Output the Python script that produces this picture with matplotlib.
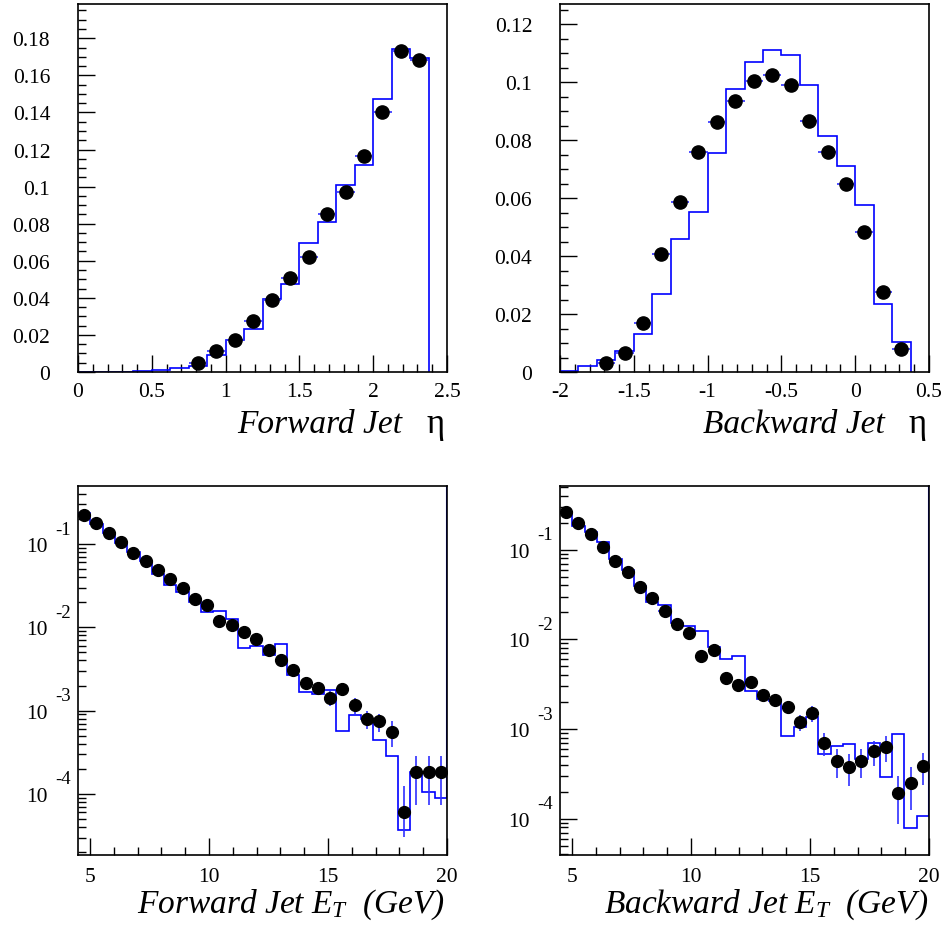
import numpy as np
import matplotlib
matplotlib.use("Agg")
import matplotlib.pyplot as plt
from matplotlib.ticker import MultipleLocator, LogLocator, NullFormatter, FuncFormatter
from matplotlib.transforms import blended_transform_factory, offset_copy

# ── DATA ────────────────────────────────────────────────────────────────────
# jet pseudorapidity, bins of 0.125
eta_fwd_edges = np.arange(0.0, 2.376, 0.125)
eta_fwd_mc = [0, 0, 0, 0.0004, 0.0010, 0.0023, 0.0030, 0.0093, 0.0171, 0.0230,
              0.0395, 0.0473, 0.0695, 0.0810, 0.1006, 0.1114, 0.1474, 0.1743, 0.1693]
eta_fwd_data = [np.nan] * 6 + [0.0050, 0.0113, 0.0174, 0.0273, 0.0390, 0.0507, 0.0622,
                               0.0854, 0.0970, 0.1163, 0.1402, 0.1730, 0.1684]
eta_fwd_err = [0.0] * 6 + [0.0004, 0.0006, 0.0008, 0.0010, 0.0012, 0.0013, 0.0014,
                           0.0016, 0.0017, 0.0018, 0.0020, 0.0022, 0.0022]

eta_bwd_edges = np.arange(-2.0, 0.376, 0.125)
eta_bwd_mc = [0.0002, 0.0020, 0.0043, 0.0072, 0.0132, 0.0269, 0.0459, 0.0552, 0.0756, 0.0976,
              0.1070, 0.1110, 0.1095, 0.0989, 0.0815, 0.0711, 0.0576, 0.0236, 0.0104]
eta_bwd_data = [np.nan] * 2 + [0.0032, 0.0066, 0.0170, 0.0408, 0.0587, 0.0759, 0.0864, 0.0935,
                               0.1003, 0.1026, 0.0990, 0.0867, 0.0758, 0.0649, 0.0483, 0.0277, 0.0081]
eta_bwd_err = [0.0] * 2 + [0.0005, 0.0007, 0.0010, 0.0013, 0.0015, 0.0016, 0.0017, 0.0018,
                           0.0019, 0.0019, 0.0019, 0.0018, 0.0017, 0.0016, 0.0014, 0.0011, 0.0006]

# jet transverse energy, 30 bins between 4.5 and 20 GeV
et_edges = np.linspace(4.5, 20.0, 31)
et_fwd_mc = [0.235, 0.174, 0.1355, 0.1028, 0.0794, 0.0631, 0.0437, 0.0322, 0.0262, 0.0201,
             0.0153, 0.0155, 0.0126, 0.0056, 0.00603, 0.00469, 0.00635, 0.0027, 0.00169, 0.0016,
             0.00177, 0.000562, 0.000875, 0.0008, 0.000448, 0.000288, 3.65e-5, 1.81e-4, 1.05e-4, 8.93e-5]
et_fwd_data = [0.220, 0.177, 0.137, 0.1045, 0.0771, 0.0631, 0.0482, 0.0376, 0.0293, 0.0220,
               0.0183, 0.0119, 0.0108, 0.00891, 0.0073, 0.00528, 0.00408, 0.0031, 0.00214, 0.00185,
               0.00142, 0.0018, 0.00116, 0.0008, 0.000741, 0.000553, 6.1e-5, 1.81e-4, 1.81e-4, 1.81e-4]
et_fwd_err_lo = [0.003, 0.003, 0.0025, 0.002, 0.0017, 0.0015, 0.0012, 0.001, 0.0009, 0.0008,
                 0.0007, 0.0005, 0.0005, 0.00045, 0.0004, 0.0003, 0.00028, 0.00024, 0.0002, 0.00016,
                 0.00029, 0.0002, 0.00026, 0.0002, 0.00018, 0.00019, 3.06e-5, 1.07e-4, 1.07e-4, 1.07e-4]
et_fwd_err_hi = [0.003, 0.003, 0.0025, 0.002, 0.0017, 0.0015, 0.0012, 0.001, 0.0009, 0.0008,
                 0.0007, 0.0005, 0.0005, 0.00045, 0.0004, 0.0003, 0.00028, 0.00024, 0.0002, 0.00016,
                 0.00029, 0.0002, 0.00026, 0.0002, 0.00018, 0.00019, 6.2e-5, 1.07e-4, 1.07e-4, 1.07e-4]

et_bwd_mc = [0.263, 0.185, 0.156, 0.121, 0.0788, 0.0598, 0.0397, 0.0263, 0.0244, 0.0152,
             0.0142, 0.0125, 0.00817, 0.00605, 0.00649, 0.00268, 0.00215, 0.00208, 0.000843, 0.00105,
             0.00136, 0.000527, 0.000643, 0.000683, 0.000464, 0.000693, 0.00029, 0.000881, 7.89e-5, 0.000108]
et_bwd_data = [0.263, 0.200, 0.1496, 0.1064, 0.0748, 0.056, 0.0387, 0.0292, 0.0209, 0.01472,
               0.01177, 0.00658, 0.00762, 0.00368, 0.00308, 0.00337, 0.0024, 0.00211, 0.00175, 0.00119,
               0.0015, 0.000695, 0.000445, 0.000381, 0.000445, 0.000565, 0.000631, 0.000192, 0.000252, 0.000385]
et_bwd_err = [0.004, 0.003, 0.0025, 0.002, 0.0016, 0.0013, 0.001, 0.0008, 0.0007, 0.0005,
              0.00045, 0.0003, 0.00035, 0.0002, 0.0002, 0.00022, 0.00018, 0.00017, 0.00015, 0.00023,
              0.0003, 0.0002, 0.00016, 0.00015, 0.00016, 0.00018, 0.0002, 0.000105, 0.000128, 0.00015]

# ── STYLE ───────────────────────────────────────────────────────────────────
plt.rcParams['font.family'] = ['Liberation Serif', 'DejaVu Serif']
plt.rcParams['axes.unicode_minus'] = False
plt.rcParams['mathtext.fontset'] = 'custom'
plt.rcParams['mathtext.it'] = 'Liberation Serif:italic'
plt.rcParams['mathtext.rm'] = 'Liberation Serif'

HIST_C = '#0000ff'
ERR_C = '#3030ff'
W, H = 949, 945
fig = plt.figure(figsize=(W / 100, H / 100), dpi=100)


def add_axes(l, t, r, b):
    # pixel box -> figure fraction
    return fig.add_axes([l / W, 1 - b / H, (r - l) / W, (b - t) / H])


def style(ax, xpad, ypad):
    for s in ax.spines.values():
        s.set_linewidth(1.2)
    ax.tick_params(which='both', direction='in', top=False, right=False,
                   width=1.0, labelsize=15.5, colors='black')
    ax.tick_params(which='major', length=12)
    ax.tick_params(which='minor', length=6)
    ax.tick_params(axis='x', pad=xpad)
    ax.tick_params(axis='y', pad=ypad)


def draw_points(ax, edges, vals, err_lo, err_hi, ms):
    centers = 0.5 * (edges[:-1] + edges[1:])
    half = 0.5 * np.diff(edges)
    ax.errorbar(centers, vals, xerr=half, yerr=[err_lo, err_hi], fmt='none',
                ecolor=ERR_C, elinewidth=1.2, capsize=0, zorder=3)
    ax.plot(centers, vals, 'o', color='black', ms=ms, zorder=4)


def log_labels(ax):
    ax.yaxis.set_major_locator(LogLocator(base=10, numticks=20))
    ax.yaxis.set_minor_locator(LogLocator(base=10, subs=np.arange(2, 10), numticks=20))
    ax.yaxis.set_minor_formatter(NullFormatter())
    ax.yaxis.set_major_formatter(FuncFormatter(lambda v, p: '10'))
    tr = offset_copy(blended_transform_factory(ax.transAxes, ax.transData),
                     fig=fig, x=0, y=15, units='dots')
    for n in [-1, -2, -3, -4]:
        ax.text(-0.062, 10.0 ** n, str(n), transform=tr, ha='left', va='center', fontsize=13.5)


# ── 1. FORWARD ETA ──────────────────────────────────────────────────────────
ax1 = add_axes(78, 5, 447, 373)
ax1.stairs(eta_fwd_mc, eta_fwd_edges, color=HIST_C, lw=1.2, baseline=0, zorder=2)
draw_points(ax1, eta_fwd_edges, eta_fwd_data, eta_fwd_err, eta_fwd_err, 9.5)
ax1.set_xlim(0, 2.5)
ax1.set_ylim(0, 0.1985)
ax1.xaxis.set_major_locator(MultipleLocator(0.5))
ax1.xaxis.set_minor_locator(MultipleLocator(0.1))
ax1.yaxis.set_major_locator(MultipleLocator(0.02))
ax1.yaxis.set_minor_locator(MultipleLocator(0.005))
ax1.xaxis.set_major_formatter(FuncFormatter(lambda v, p: f'{v:g}'))
ax1.yaxis.set_major_formatter(FuncFormatter(lambda v, p: f'{v:g}'))
style(ax1, 7, 20)

# ── 2. BACKWARD ETA ─────────────────────────────────────────────────────────
ax2 = add_axes(560, 5, 929, 373)
ax2.stairs(eta_bwd_mc, eta_bwd_edges, color=HIST_C, lw=1.2, baseline=0, zorder=2)
draw_points(ax2, eta_bwd_edges, eta_bwd_data, eta_bwd_err, eta_bwd_err, 9.5)
ax2.set_xlim(-2, 0.5)
ax2.set_ylim(0, 0.127)
ax2.xaxis.set_major_locator(MultipleLocator(0.5))
ax2.xaxis.set_minor_locator(MultipleLocator(0.1))
ax2.yaxis.set_major_locator(MultipleLocator(0.02))
ax2.yaxis.set_minor_locator(MultipleLocator(0.005))
ax2.xaxis.set_major_formatter(FuncFormatter(lambda v, p: f'{v:g}'))
ax2.yaxis.set_major_formatter(FuncFormatter(lambda v, p: f'{v:g}'))
style(ax2, 7, 20)

# ── 3. FORWARD ET ───────────────────────────────────────────────────────────
ax3 = add_axes(78, 487, 447, 856)
ax3.set_yscale('log')
ax3.stairs(et_fwd_mc, et_edges, color=HIST_C, lw=1.2, baseline=None, zorder=2)
ax3.set_xlim(4.5, 20)
ax3.set_ylim(1.85e-5, 0.497)
ax3.vlines(et_edges[-1], et_fwd_mc[-1], ax3.get_ylim()[1], color=HIST_C, lw=1.5, zorder=2)
draw_points(ax3, et_edges, et_fwd_data, et_fwd_err_lo, et_fwd_err_hi, 8.5)
ax3.xaxis.set_major_locator(MultipleLocator(5))
ax3.xaxis.set_minor_locator(MultipleLocator(1))
log_labels(ax3)
style(ax3, 9, 22)

# ── 4. BACKWARD ET ──────────────────────────────────────────────────────────
ax4 = add_axes(560, 487, 929, 856)
ax4.set_yscale('log')
ax4.stairs(et_bwd_mc, et_edges, color=HIST_C, lw=1.2, baseline=None, zorder=2)
ax4.set_xlim(4.5, 20)
ax4.set_ylim(3.94e-5, 0.513)
ax4.vlines(et_edges[-1], et_bwd_mc[-1], ax4.get_ylim()[1], color=HIST_C, lw=1.5, zorder=2)
draw_points(ax4, et_edges, et_bwd_data, et_bwd_err, et_bwd_err, 8.5)
ax4.xaxis.set_major_locator(MultipleLocator(5))
ax4.xaxis.set_minor_locator(MultipleLocator(1))
log_labels(ax4)
style(ax4, 9, 22)

# ── AXIS TITLES ─────────────────────────────────────────────────────────────
tkw = dict(fontsize=24, style='italic', va='baseline')
fig.text(402 / W, 1 - 433 / H, 'Forward Jet', ha='right', **tkw)
fig.text(436 / W, 1 - 433 / H, 'η', ha='center', fontsize=25, va='baseline')
fig.text(885 / W, 1 - 433 / H, 'Backward Jet', ha='right', **tkw)
fig.text(918 / W, 1 - 433 / H, 'η', ha='center', fontsize=25, va='baseline')
fig.text(445 / W, 1 - 913 / H, r'Forward Jet $E_T$  (GeV)', ha='right', **tkw)
fig.text(928 / W, 1 - 913 / H, r'Backward Jet $E_T$  (GeV)', ha='right', **tkw)

plt.savefig('out.png', dpi=100)
